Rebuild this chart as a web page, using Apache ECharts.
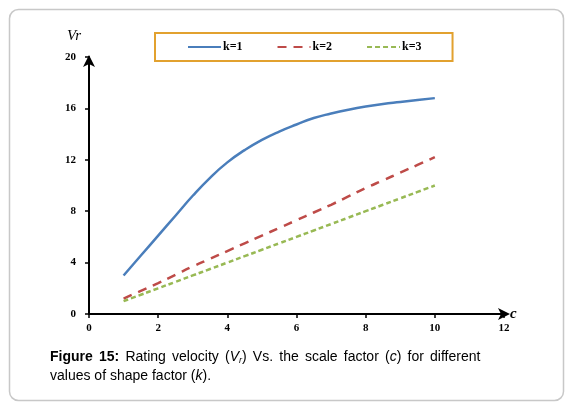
<!DOCTYPE html>
<html><head><meta charset="utf-8">
<script src="https://cdn.jsdelivr.net/npm/echarts@6/dist/echarts.min.js"></script>
<style>html,body{margin:0;padding:0;background:#fff}#c{width:567px;height:406px}</style>
</head><body><div id="c"></div>
<script>
var cValues = [1, 1.5, 2, 2.5, 3, 3.5, 4, 4.5, 5, 5.5, 6, 6.5, 7, 7.5, 8, 8.5, 9, 9.5, 10];
var k1 = [3.0, 4.55, 6.1, 7.65, 9.2, 10.6, 11.8, 12.75, 13.55, 14.2, 14.75, 15.25, 15.6, 15.9, 16.15, 16.35, 16.5, 16.65, 16.8];
var k2 = [1.2, 1.8, 2.4, 3.05, 3.7, 4.3, 4.9, 5.5, 6.1, 6.7, 7.3, 7.9, 8.5, 9.15, 9.8, 10.4, 11.0, 11.6, 12.2];
var k3 = [1.0, 1.5, 2.0, 2.5, 3.0, 3.5, 4.0, 4.5, 5.0, 5.5, 6.0, 6.5, 7.0, 7.5, 8.0, 8.5, 9.0, 9.5, 10.0];
var seriesNames = ['k=1', 'k=2', 'k=3'];
var xTicks = [0, 2, 4, 6, 8, 10, 12];
var yTicks = [0, 4, 8, 12, 16, 20];

function pairs(vals) { return cValues.map(function (c, i) { return [c, vals[i]]; }); }

var chart = echarts.init(document.getElementById('c'), null, {renderer: 'canvas'});
var serif = 'Liberation Serif';
var sans = 'Liberation Sans';
chart.setOption({
  animation: false,
  backgroundColor: '#fff',
  grid: {left: 89, right: 63, top: 57, bottom: 92, containLabel: false},
  legend: {
    left: 155, top: 33, padding: [8, 31, 8, 32], itemGap: 34,
    itemWidth: 33, itemHeight: 12,
    itemStyle: {opacity: 0, borderWidth: 0},
    borderColor: '#E2A12F', borderWidth: 2,
    data: seriesNames,
    textStyle: {fontFamily: serif, fontWeight: 'bold', fontSize: 12, color: '#000', padding: [0, 0, 0, -3]}
  },
  xAxis: {
    type: 'value', min: xTicks[0], max: xTicks[xTicks.length - 1], interval: 2,
    name: 'c', nameLocation: 'end', nameGap: 6,
    nameTextStyle: {fontFamily: serif, fontStyle: 'italic', fontWeight: 'bold', fontSize: 15, color: '#000', verticalAlign: 'middle'},
    axisLine: {lineStyle: {color: '#000', width: 2}, symbol: ['none', 'arrow'], symbolSize: [9, 12], symbolOffset: [0, 6]},
    axisTick: {show: true, inside: false, length: 4, lineStyle: {color: '#000', width: 1.5}},
    axisLabel: {margin: 9, fontFamily: serif, fontWeight: 'bold', fontSize: 11, color: '#000'},
    splitLine: {show: false}
  },
  yAxis: {
    type: 'value', min: yTicks[0], max: yTicks[yTicks.length - 1], interval: 4,
    name: 'Vr', nameLocation: 'end', nameGap: 13,
    nameTextStyle: {fontFamily: serif, fontStyle: 'italic', fontSize: 15, color: '#000', align: 'right', padding: [0, 8, 0, 0]},
    axisLine: {lineStyle: {color: '#000', width: 2}, symbol: ['none', 'arrow'], symbolSize: [9, 12], symbolOffset: [0, 2]},
    axisTick: {show: true, inside: false, length: 4, lineStyle: {color: '#000', width: 1.5}},
    axisLabel: {margin: 13, fontFamily: serif, fontWeight: 'bold', fontSize: 11, color: '#000'},
    splitLine: {show: false}
  },
  series: [
    {name: seriesNames[0], type: 'line', data: pairs(k1), smooth: true, symbol: 'none',
     lineStyle: {color: '#4A7EBB', width: 2.5}, itemStyle: {color: '#4A7EBB'}},
    {name: seriesNames[1], type: 'line', data: pairs(k2), smooth: true, symbol: 'none',
     lineStyle: {color: '#BE4B48', width: 2.5, type: [9, 7]}, itemStyle: {color: '#BE4B48'}},
    {name: seriesNames[2], type: 'line', data: pairs(k3), smooth: true, symbol: 'none',
     lineStyle: {color: '#98B954', width: 2.5, type: [5, 3]}, itemStyle: {color: '#98B954'}}
  ],
  graphic: [
    {type: 'rect', left: 7, top: 7, z: -10, silent: true,
     shape: {width: 554, height: 391, r: 9},
     style: {fill: 'none', stroke: '#C8C8C8', lineWidth: 1.5}},
    {type: 'text', left: 50, top: 350,
     style: {
       text: '{b|Figure}{sp| }{b|15:}{sp| }Rating{sp| }velocity{sp| }({i|V}{s|r}){sp| }Vs.{sp| }the{sp| }scale{sp| }factor{sp| }({i|c}){sp| }for{sp| }different',
       fontFamily: sans, fontSize: 14, fill: '#000',
       rich: {
         b: {fontFamily: sans, fontWeight: 'bold', fontSize: 14},
         i: {fontFamily: sans, fontStyle: 'italic', fontSize: 14},
         s: {fontFamily: sans, fontStyle: 'italic', fontSize: 9, verticalAlign: 'bottom', padding: [6, 0, 0, 0]},
         sp: {fontFamily: sans, fontSize: 14, width: 6.2}
       }
     }},
    {type: 'text', left: 50, top: 369,
     style: {
       text: 'values of shape factor ({i|k}).',
       fontFamily: sans, fontSize: 14, fill: '#000',
       rich: {i: {fontFamily: sans, fontStyle: 'italic', fontSize: 14}}
     }}
  ]
});
</script></body></html>
